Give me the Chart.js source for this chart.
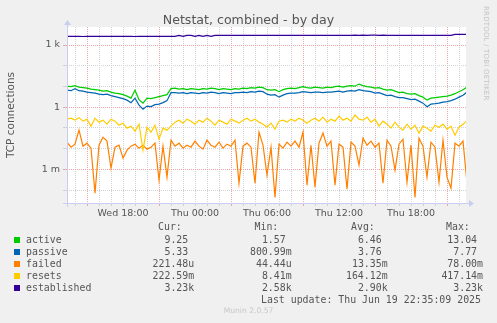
<!DOCTYPE html>
<html>
  <head>
    <title>Netstat, combined - by day</title>
    <meta charset="UTF-8">
    <script src="https://cdn.jsdelivr.net/npm/chart.js@4.4.0/dist/chart.umd.min.js"></script>
    <style type="text/css">
      body { margin: 0; background: #f0f0f0; width: 497px; height: 323px; overflow: hidden; position: relative; font-family: "DejaVu Sans"; color: #555; }
      canvas { position: absolute; left: 0; top: 0; }
      .title { position: absolute; left: 0; width: 497px; top: 12px; text-align: center; font-size: 12.6px; line-height: 15px; }
      .mono { position: absolute; font-family: "DejaVu Sans Mono"; font-size: 9.9px; line-height: 12px; white-space: pre; }
      .box { position: absolute; width: 6px; height: 6px; left: 14px; }
      .rrd { position: absolute; left: 482px; top: 6px; writing-mode: vertical-rl; font-size: 7px; color: #c4c4c4; letter-spacing: 0.2px; }
      .munin { position: absolute; left: 0; width: 497px; top: 306px; text-align: center; font-size: 7.6px; color: #c8c8c8; }
    </style>
    <script type="text/javascript">
      // one sample every 20 minutes, first sample = Wed 13:20
      const stepMinutes = 20;
      const startHour = 13, startMinute = 20;

      const seriesNames = ["active", "passive", "failed", "resets", "established"];
      const seriesColors = ["#00cc00", "#0066b3", "#ff8000", "#ffcc00", "#330099"];

      const active = [
        10.3, 9.75, 10.9, 9.22, 8.72, 8.25, 7.38, 6.98, 6.61, 5.91,
        6.25, 5.29, 4.73, 4.48, 4.01, 3.39, 2.72, 6.61, 2.30, 1.57,
        2.72, 2.57, 2.87, 3.21, 3.59, 4.01, 7.80, 8.25, 7.38, 7.80,
        6.98, 7.80, 7.38, 6.98, 7.80, 7.38, 8.25, 7.80, 6.98, 7.80,
        7.38, 6.98, 7.80, 7.38, 8.25, 7.80, 8.72, 8.25, 9.22, 8.72,
        6.98, 6.61, 6.98, 5.59, 6.98, 7.80, 8.25, 7.80, 8.72, 9.75,
        8.72, 8.25, 9.22, 8.72, 8.25, 9.22, 8.72, 9.75, 10.3, 9.22,
        10.3, 10.9, 10.3, 13.0, 10.9, 9.75, 9.22, 8.25, 8.72, 7.38,
        6.61, 6.98, 5.91, 5.00, 5.29, 4.48, 4.24, 4.48, 3.59, 3.04,
        2.18, 2.72, 2.87, 3.04, 3.21, 3.39, 3.79, 4.48, 5.59, 6.98,
        9.25
      ];
      const passive = [
        6.61, 6.25, 7.77, 6.25, 5.91, 5.29, 5.00, 4.73, 4.24, 4.01,
        4.24, 3.59, 3.21, 2.87, 2.57, 2.18, 1.65, 2.72, 1.25, 0.80,
        1.12, 1.06, 1.32, 1.40, 1.65, 2.06, 5.00, 5.00, 4.73, 5.00,
        4.48, 5.00, 4.73, 4.48, 5.00, 4.73, 5.29, 5.00, 4.48, 5.00,
        4.73, 4.48, 5.00, 5.00, 5.29, 5.00, 5.59, 5.29, 5.91, 5.59,
        4.24, 3.79, 4.01, 3.04, 3.79, 4.48, 4.73, 4.73, 5.00, 5.59,
        5.29, 5.00, 5.29, 5.29, 5.00, 5.29, 5.29, 5.59, 5.91, 5.29,
        5.91, 6.25, 5.91, 6.98, 6.25, 5.91, 5.59, 4.73, 5.00, 4.24,
        3.59, 3.79, 3.21, 2.87, 2.87, 2.57, 2.30, 2.43, 1.95, 1.56,
        1.06, 1.40, 1.47, 1.56, 1.74, 1.84, 2.06, 2.43, 3.04, 3.79,
        5.33
      ];
      const failed = [
        0.0204, 0.0117, 0.0164, 0.078, 0.0131, 0.0183, 0.0105, 0.0000706, 0.0146, 0.0356,
        0.0229, 0.00114, 0.0117, 0.0146, 0.00346, 0.0084, 0.0131, 0.0164, 0.0105, 0.0146,
        0.0094, 0.0117, 0.0183, 0.0003, 0.0131, 0.00042, 0.0255, 0.0131, 0.0183, 0.0105,
        0.0146, 0.0117, 0.0229, 0.0131, 0.0094, 0.0255, 0.0146, 0.0117, 0.0204, 0.0105,
        0.0164, 0.0131, 0.0255, 0.000215, 0.0131, 0.0183, 0.0117, 0.000215, 0.0621, 0.0146,
        0.00052, 0.0117, 0.0000444, 0.0164, 0.0105, 0.0204, 0.0131, 0.0229, 0.0117, 0.0621,
        0.000172, 0.0146, 0.000138, 0.0183, 0.0556, 0.0131, 0.0229, 0.000172, 0.0164, 0.0117,
        0.00011, 0.0204, 0.0131, 0.0016, 0.0319, 0.0146, 0.0229, 0.0117, 0.0183, 0.000215,
        0.0255, 0.0131, 0.00091, 0.0164, 0.0285, 0.00024, 0.0146, 0.0000444, 0.0319, 0.0131,
        0.00042, 0.0204, 0.0117, 0.00024, 0.0255, 0.00042, 0.000123, 0.0183, 0.0131, 0.0229,
        0.000221
      ];
      const resets = [
        0.263, 0.294, 0.236, 0.311, 0.211, 0.263, 0.121, 0.294, 0.189, 0.236,
        0.151, 0.263, 0.211, 0.135, 0.169, 0.0969, 0.121, 0.0694, 0.151, 0.00841,
        0.108, 0.0621, 0.135, 0.0285, 0.0969, 0.0776, 0.121, 0.189, 0.236, 0.169,
        0.263, 0.211, 0.151, 0.236, 0.189, 0.294, 0.211, 0.135, 0.236, 0.189,
        0.151, 0.263, 0.211, 0.169, 0.236, 0.294, 0.211, 0.263, 0.189, 0.151,
        0.108, 0.169, 0.0867, 0.211, 0.236, 0.189, 0.263, 0.211, 0.294, 0.236,
        0.169, 0.236, 0.294, 0.211, 0.329, 0.189, 0.263, 0.211, 0.368, 0.236,
        0.294, 0.211, 0.417, 0.263, 0.236, 0.329, 0.189, 0.263, 0.121, 0.211,
        0.151, 0.0969, 0.189, 0.108, 0.0776, 0.151, 0.0867, 0.135, 0.0556, 0.121,
        0.0969, 0.0694, 0.135, 0.108, 0.151, 0.0867, 0.121, 0.0445, 0.108, 0.151,
        0.2226
      ];
      const established = [
        2600, 2600, 2620, 2600, 2580, 2600, 2600, 2610, 2600, 2600,
        2590, 2600, 2600, 2600, 2620, 2600, 2600, 2580, 2600, 2600,
        2600, 2610, 2600, 2600, 2600, 2590, 2600, 2600, 2900, 2600,
        2900, 2900, 2600, 2900, 2600, 2900, 2600, 2900, 2900, 2900,
        2900, 2900, 2900, 2900, 2900, 2900, 2900, 2900, 2900, 2900,
        2900, 2900, 2900, 2900, 2900, 2900, 2900, 2900, 2900, 2900,
        2900, 2900, 2900, 2900, 2900, 2900, 2900, 2900, 2900, 2900,
        2900, 2900, 3000, 2900, 3000, 2900, 3000, 3000, 2900, 3000,
        2900, 2900, 2900, 2900, 2900, 2900, 2900, 2900, 2900, 2900,
        2900, 2900, 2900, 2900, 2900, 2900, 2900, 3230, 3230, 3230,
        3230
      ];

      // legend table (as printed by rrdtool)
      const curText = ["9.25", "5.33", "221.48u", "222.59m", "3.23k"];
      const minText = ["1.57", "800.99m", "44.44u", "8.41m", "2.58k"];
      const avgText = ["6.46", "3.76", "13.35m", "164.12m", "2.90k"];
      const maxText = ["13.04", "7.77", "78.00m", "417.14m", "3.23k"];
      const lastUpdate = "Last update: Thu Jun 19 22:35:09 2025";

      const yTickLabels = { "3": "1 k", "0": "1", "-3": "1 m" };
    </script>
  </head>
  <body>
    <canvas id="chart" width="497" height="323"></canvas>
    <div class="title">Netstat, combined - by day</div>
    <div class="rrd">RRDTOOL / TOBI OETIKER</div>
    <div id="legend"></div>
    <div class="munin">Munin 2.0.57</div>

    <script type="text/javascript">
      const spanMinutes = 1995;
      const firstHourAt = 60 - startMinute;   // minutes to the first full hour

      const hourTicks = [];
      for (let m = firstHourAt; m <= spanMinutes; m += 60) hourTicks.push(m);

      const hourOf = m => (startHour + Math.round((m - firstHourAt) / 60) + 1);

      const seriesData = [active, passive, failed, resets, established];
      const datasets = seriesData.map((arr, k) => ({
        label: seriesNames[k],
        data: arr.map((v, i) => ({ x: i * stepMinutes, y: v })),
        borderColor: seriesColors[k],
        borderWidth: 1.2,
        pointRadius: 0,
        tension: 0,
        fill: false,
        order: 4 - k   // later series on top, like rrdtool
      }));

      const gridGray = "#d2d2d2";
      const gridRed = "#f0a4a4";
      const axisColor = "#c9cdef";

      // white canvas + rrdtool style axes with arrows
      const rrdFrame = {
        id: "rrdFrame",
        beforeDraw(chart) {
          const a = chart.chartArea, c = chart.ctx;
          c.save();
          c.fillStyle = "#ffffff";
          c.fillRect(a.left, a.top, a.right - a.left, a.bottom - a.top);
          c.restore();
        },
        afterDraw(chart) {
          const a = chart.chartArea, c = chart.ctx;
          c.save();
          c.strokeStyle = axisColor;
          c.fillStyle = axisColor;
          c.lineWidth = 1;
          c.beginPath();
          c.moveTo(a.left - 4, a.bottom + 0.5);
          c.lineTo(a.right + 3, a.bottom + 0.5);
          c.moveTo(a.left + 0.5, a.bottom + 4);
          c.lineTo(a.left + 0.5, a.top - 2);
          c.stroke();
          c.beginPath();
          c.moveTo(a.right + 3, a.bottom - 3);
          c.lineTo(a.right + 8, a.bottom + 0.5);
          c.lineTo(a.right + 3, a.bottom + 4);
          c.fill();
          c.beginPath();
          c.moveTo(a.left - 3, a.top - 2);
          c.lineTo(a.left + 0.5, a.top - 7);
          c.lineTo(a.left + 4, a.top - 2);
          c.fill();
          c.restore();
        }
      };

      Chart.defaults.font.family = "'DejaVu Sans'";
      Chart.defaults.color = "#555";

      new Chart(document.getElementById("chart"), {
        type: "line",
        data: { datasets: datasets },
        plugins: [rrdFrame],
        options: {
          responsive: false,
          animation: false,
          devicePixelRatio: 1,
          layout: { padding: { top: 27, right: 31, left: 0, bottom: 0 } },
          plugins: { legend: { display: false }, tooltip: { enabled: false } },
          scales: {
            x: {
              type: "linear",
              min: 0,
              max: spanMinutes,
              afterFit: s => { s.height = 120; },
              afterBuildTicks: s => { s.ticks = hourTicks.map(v => ({ value: v })); },
              ticks: {
                autoSkip: false,
                maxRotation: 0,
                padding: 2,
                font: { size: 9.5 },
                color: "#555",
                callback: v => {
                  const h = hourOf(v);
                  if (h % 6 != 0) return "";
                  const day = h < 24 ? "Wed" : "Thu";
                  return day + " " + String(h % 24).padStart(2, "0") + ":00";
                }
              },
              grid: {
                color: c => (hourOf(c.tick.value) % 6 == 3 ? gridRed : gridGray),
                tickColor: c => (hourOf(c.tick.value) % 6 == 3 ? gridRed : gridGray),
                lineWidth: 1,
                tickLength: 3
              },
              border: { display: false, dash: [1, 1] }
            },
            y: {
              type: "logarithmic",
              min: 2.366e-5,
              max: 7396,
              afterFit: s => { s.width = 67; },
              afterBuildTicks: s => {
                const t = [];
                for (let e = -4; e <= 3; e++) t.push({ value: Math.pow(10, e) });
                s.ticks = t;
              },
              ticks: {
                autoSkip: false,
                padding: 3,
                font: { size: 9.5 },
                color: "#555",
                callback: v => yTickLabels[String(Math.round(Math.log10(v)))] || ""
              },
              grid: {
                color: c => (Math.round(Math.log10(c.tick.value)) % 3 == 0 ? gridRed : gridGray),
                tickColor: c => (Math.round(Math.log10(c.tick.value)) % 3 == 0 ? gridRed : gridGray),
                lineWidth: 1,
                tickLength: 4
              },
              border: { display: false, dash: [1, 1] },
              title: {
                display: true,
                text: "TCP connections",
                font: { size: 10.5 },
                color: "#555",
                padding: { top: 5, bottom: 0 }
              }
            }
          }
        }
      });

      // Legend table below the graph
      const colRight = [194.2, 291.6, 387.6, 483.0];
      const headers = [["Cur:", 158], ["Min:", 254.5], ["Avg:", 351], ["Max:", 446]];
      const pad = s => (/[0-9]$/.test(s) ? s + " " : s);
      let html = "";
      headers.forEach(h => {
        html += `<div class="mono" style="left:${h[1]}px;top:221px">${h[0]}</div>`;
      });
      seriesNames.forEach((name, k) => {
        const top = 234 + k * 11.9;
        html += `<div class="box" style="top:${top + 3}px;background:${seriesColors[k]}"></div>`;
        html += `<div class="mono" style="left:26px;top:${top}px">${name}</div>`;
        [curText, minText, avgText, maxText].forEach((col, j) => {
          html += `<div class="mono" style="right:${497 - colRight[j]}px;top:${top}px;text-align:right">${pad(col[k])}</div>`;
        });
      });
      html += `<div class="mono" style="left:261px;top:${234 + 5 * 11.9}px">${lastUpdate}</div>`;
      document.getElementById("legend").innerHTML = html;
    </script>
  </body>
</html>
